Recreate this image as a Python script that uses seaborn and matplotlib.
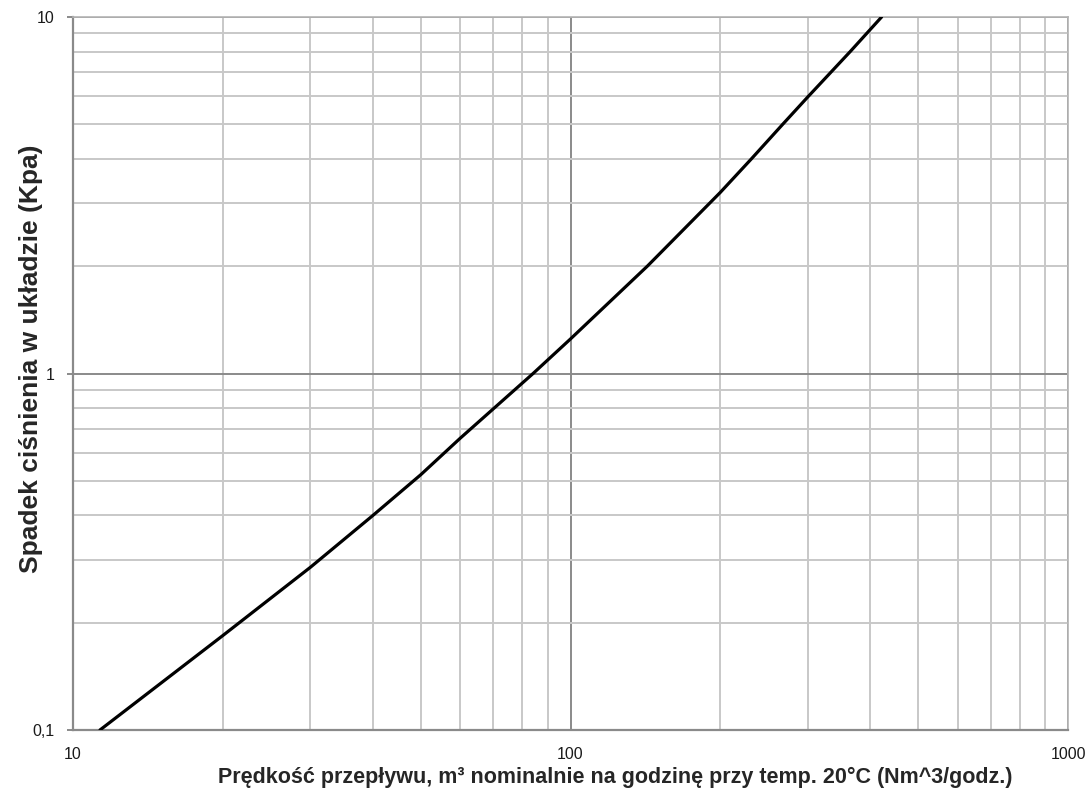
import numpy as np
import pandas as pd
import matplotlib
matplotlib.use("Agg")
import matplotlib.pyplot as plt
from matplotlib import font_manager
from matplotlib.ticker import LogLocator, FixedLocator, FixedFormatter, NullFormatter
import seaborn as sns

# flow rate (Nm^3/h) and pressure drop (kPa)
flow = [11.33, 20, 30, 40, 50, 60, 84.1, 100, 142.7, 200, 231, 267, 300, 365, 422]
drop = [0.1, 0.184, 0.286, 0.399, 0.52, 0.658, 1.0, 1.25, 2.0, 3.22, 4.0, 5.0, 5.97, 8.0, 10.0]

x_ticks = [10, 100, 1000]
x_tick_labels = ["10", "100", "1000"]
y_ticks = [0.1, 1, 10]
y_tick_labels = ["0,1", "1", "10"]

df = pd.DataFrame({"flow": flow, "drop": drop})

sns.set_style("white")
plt.rcParams["font.family"] = ["Liberation Sans", "DejaVu Sans"]

# the y label in the reference is tall but short, a narrow face fits it better
names = {f.name for f in font_manager.fontManager.ttflist}
if "Liberation Sans Narrow" in names:
    ylab_font = ["Liberation Sans Narrow", "Liberation Sans", "DejaVu Sans"]
    ylab_size = 22
else:
    ylab_font = ["Liberation Sans", "DejaVu Sans"]
    ylab_size = 19

fig = plt.figure(figsize=(10.91, 7.96), dpi=100)
ax = fig.add_axes([73 / 1091, 1 - 730 / 796, 995 / 1091, 713 / 796])

ax.set_xscale("log")
ax.set_yscale("log")
ax.set_xlim(10, 1000)
ax.set_ylim(0.1, 10)

# grid: light minor lines, darker lines at the decades
ax.xaxis.set_minor_locator(LogLocator(base=10, subs=np.arange(2, 10)))
ax.yaxis.set_minor_locator(LogLocator(base=10, subs=np.arange(2, 10)))
ax.xaxis.set_minor_formatter(NullFormatter())
ax.yaxis.set_minor_formatter(NullFormatter())
ax.grid(True, which="minor", color="#c8c8c8", linewidth=1.4)
ax.grid(True, which="major", color="#8a8a8a", linewidth=1.4)

sns.lineplot(data=df, x="flow", y="drop", color="black", linewidth=2.3, ax=ax, zorder=5)

ax.xaxis.set_major_locator(FixedLocator(x_ticks))
ax.xaxis.set_major_formatter(FixedFormatter(x_tick_labels))
ax.yaxis.set_major_locator(FixedLocator(y_ticks))
ax.yaxis.set_major_formatter(FixedFormatter(y_tick_labels))

ax.tick_params(axis="x", which="both", length=0, pad=12, labelsize=11.5, labelcolor="#1a1a1a")
ax.tick_params(axis="y", which="major", length=4, width=1.4, color="#8a8a8a", pad=9,
               labelsize=11.5, labelcolor="#1a1a1a", left=True)
ax.tick_params(axis="y", which="minor", length=0)

for side in ["left", "bottom"]:
    ax.spines[side].set_color("#8a8a8a")
    ax.spines[side].set_linewidth(1.6)
for side in ["top", "right"]:
    ax.spines[side].set_color("#b4b4b4")
    ax.spines[side].set_linewidth(1.2)

ax.set_xlabel("Prędkość przepływu, m³ nominalnie na godzinę przy temp. 20°C (Nm^3/godz.)",
              fontsize=15.5, fontweight="bold")
ax.set_ylabel("Spadek ciśnienia w układzie (Kpa)", fontsize=ylab_size, fontweight="bold",
              family=ylab_font)
ax.xaxis.set_label_coords(0.545, -0.052)
ax.yaxis.set_label_coords(-0.03, 0.52)

fig.savefig("out.png", dpi=100)
